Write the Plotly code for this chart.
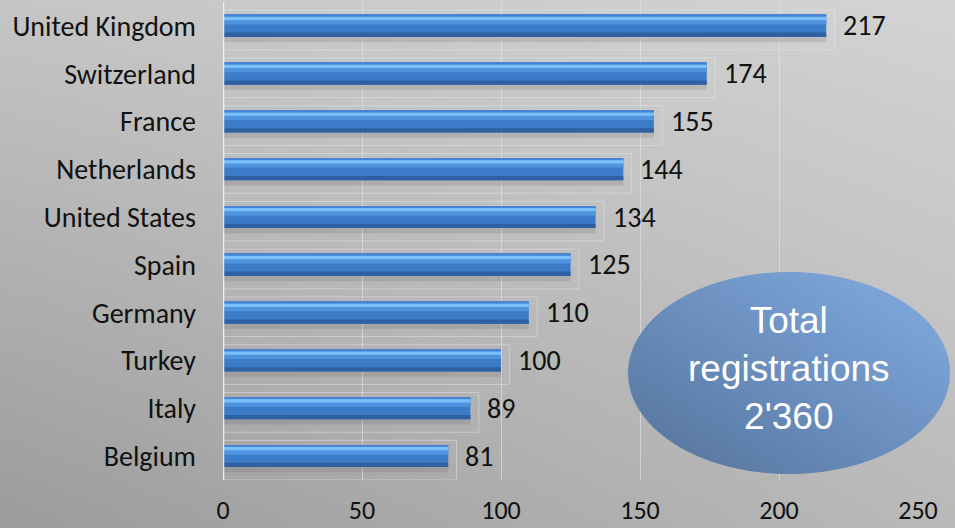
import base64, struct, zlib
import numpy as np
import plotly.graph_objects as go

countries = ["United Kingdom", "Switzerland", "France", "Netherlands", "United States",
             "Spain", "Germany", "Turkey", "Italy", "Belgium"]
registrations = [217, 174, 155, 144, 134, 125, 110, 100, 89, 81]
x_ticks = [0, 50, 100, 150, 200, 250]
total_text = "Total<br>registrations<br>2'360"

W, H = 955, 528
L, R, T, B = 223, 37, 2, 48
PW, PH = W - L - R, H - T - B


def png_uri(arr):
    arr = np.ascontiguousarray(arr.astype(np.uint8))
    h, w = arr.shape[:2]
    raw = b"".join(b"\x00" + arr[i].tobytes() for i in range(h))

    def chunk(tag, data):
        c = struct.pack(">I", len(data)) + tag + data
        return c + struct.pack(">I", zlib.crc32(tag + data) & 0xFFFFFFFF)

    png = b"\x89PNG\r\n\x1a\n" + chunk(b"IHDR", struct.pack(">IIBBBBB", w, h, 8, 6, 0, 0, 0)) \
        + chunk(b"IDAT", zlib.compress(raw, 9)) + chunk(b"IEND", b"")
    return "data:image/png;base64," + base64.b64encode(png).decode()


# background gradient (bilinear grey)
bw, bh = 191, 106
u = np.linspace(0, 1, bw)[None, :]
v = np.linspace(0, 1, bh)[:, None]
tl, tr, bl, br = 198, 212, 156, 186
g = tl * (1 - u) * (1 - v) + tr * u * (1 - v) + bl * (1 - u) * v + br * u * v
bg = np.zeros((bh, bw, 4))
bg[..., 0] = g
bg[..., 1] = g
bg[..., 2] = g
bg[..., 3] = 255

# ellipse image
ew, eh = 324, 204
yy, xx = np.mgrid[0:eh, 0:ew] + 0.5
a, b = ew / 2 - 1, eh / 2 - 1
d = np.sqrt(((xx - ew / 2) / a) ** 2 + ((yy - eh / 2) / b) ** 2)
alpha = np.clip((1 - d) * 120 + 0.5, 0, 1)
t = ((xx / ew) + (1 - yy / eh)) / 2
c0 = np.array([84, 114, 154])
c1 = np.array([132, 174, 228])
ell = np.zeros((eh, ew, 4))
for k in range(3):
    ell[..., k] = c0[k] + (c1[k] - c0[k]) * t
ell[..., 3] = alpha * 255

fig = go.Figure()


def layer(offset, width, color, line=None, xs=None, hover=False):
    fig.add_trace(go.Bar(
        y=countries, x=xs if xs is not None else registrations, orientation="h",
        offset=offset, width=width,
        marker=dict(color=color, line=line or dict(width=0)),
        hoverinfo=None if hover else "skip", showlegend=False))


# faint 3D box outline behind bars
layer(-0.33, 0.83, "rgba(0,0,0,0)", dict(color="rgba(232,232,232,0.5)", width=1),
      xs=[v_ + 3 for v_ in registrations])
# shadow under bars
layer(0.22, 0.12, "rgba(80,80,80,0.16)")
# main bar body
layer(-0.23, 0.46, "#3c7bc8", hover=True)
layer(-0.23, 0.20, "#4f92de")
layer(-0.19, 0.07, "#7cc0fa")
layer(-0.23, 0.035, "#4585d2")
layer(0.14, 0.09, "#2e60a2")

label_font = "Carlito, Lato, 'Open Sans', sans-serif"
annotations = [
    dict(x=val, y=cat, xref="x", yref="y", text=str(val), showarrow=False,
         xanchor="left", yanchor="middle", xshift=15,
         font=dict(family=label_font, size=28, color="#111111"))
    for cat, val in zip(countries, registrations)
]
annotations.append(dict(
    x=(789 - L) / PW, y=1 - (368 - T) / PH, xref="paper", yref="paper",
    text=total_text, showarrow=False, xanchor="center", yanchor="middle",
    font=dict(family="Liberation Sans, Arial, sans-serif", size=37, color="white")))

fig.update_layout(
    width=W, height=H,
    margin=dict(l=L, r=R, t=T, b=B, autoexpand=False),
    barmode="overlay",
    paper_bgcolor="#b4b4b4",
    plot_bgcolor="rgba(0,0,0,0)",
    images=[
        dict(source=png_uri(bg), xref="paper", yref="paper",
             x=-L / PW, y=1 + T / PH, sizex=W / PW, sizey=H / PH,
             xanchor="left", yanchor="top", sizing="stretch", layer="below"),
        dict(source=png_uri(ell), xref="paper", yref="paper",
             x=(627 - L) / PW, y=1 - (271 - T) / PH, sizex=ew / PW, sizey=eh / PH,
             xanchor="left", yanchor="top", sizing="stretch", layer="above"),
    ],
    annotations=annotations,
    xaxis=dict(range=[0, 250], tickvals=x_ticks, ticktext=[str(v_) for v_ in x_ticks],
               showgrid=True, gridcolor="rgba(230,230,230,0.6)", gridwidth=1,
               zeroline=False, showline=False, ticks="", ticklabelstandoff=12,
               automargin=False,
               tickfont=dict(family=label_font, size=26, color="#111111")),
    yaxis=dict(categoryorder="array", categoryarray=countries, autorange="reversed",
               showgrid=False, zeroline=False, showline=False, ticks="",
               ticklabelstandoff=26, automargin=False,
               tickfont=dict(family=label_font, size=28, color="#111111")),
)
fig.add_vline(x=0, line=dict(color="rgba(245,245,245,0.9)", width=2.5), layer="above")

fig.write_html(
    "out.html", config={"displayModeBar": False},
    post_script=("document.documentElement.style.overflow='hidden';"
                 "document.body.style.margin='0';document.body.style.overflow='hidden';"))
